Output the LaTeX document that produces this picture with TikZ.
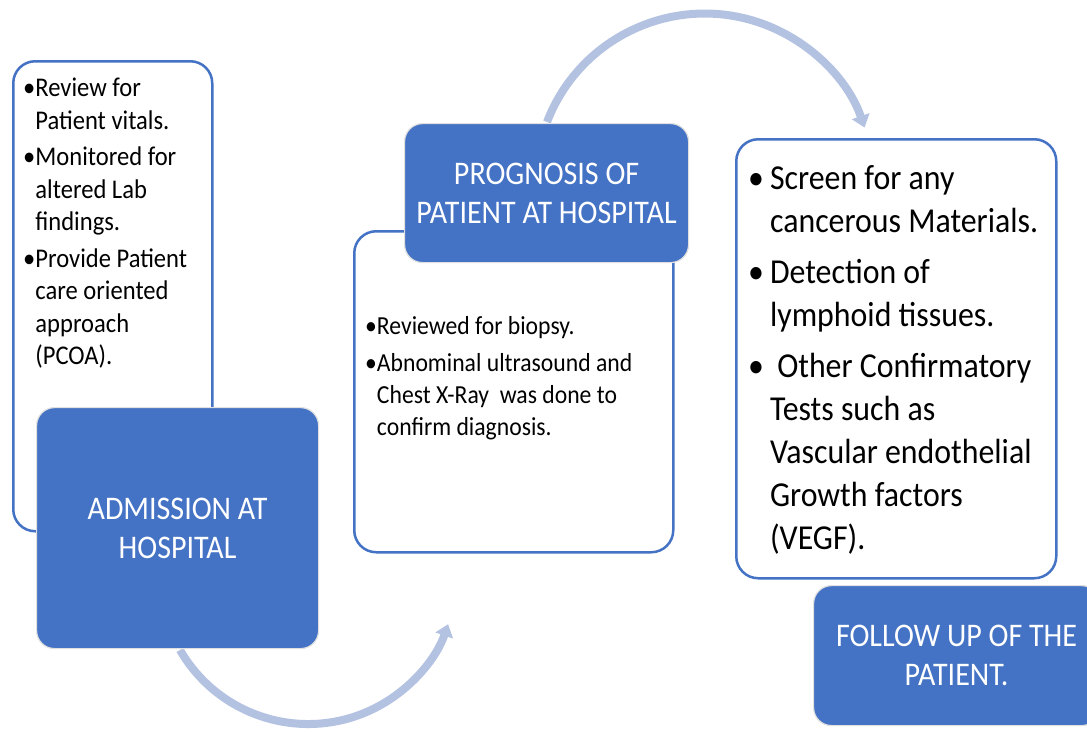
\documentclass[tikz,border=0pt]{standalone}
\usepackage{fontspec}
\setmainfont{Carlito}[FakeStretch=0.91]
\usetikzlibrary{arrows.meta}

\definecolor{boxblue}{HTML}{4472C4}
\definecolor{arcblue}{HTML}{B4C2E2}

\tikzset{
  panel/.style={draw=boxblue, line width=2.5pt, fill=white, rounded corners=22pt, anchor=north west},
  titlebox/.style={fill=boxblue, draw=black!12, line width=1.2pt, rounded corners=18pt,
    anchor=north west, text=white, align=center, font=\fontsize{33}{39}\selectfont},
  bullets/.style={anchor=north west, inner sep=0pt, align=left},
  flow/.style={arcblue, line width=8pt, -{Triangle[length=12pt,width=18pt]}}
}

\def\gap{\phantom{\textbullet}}
\def\sp{\hspace{6pt}}

\begin{document}
\begin{tikzpicture}[x=1pt, y=-1pt]
\clip (0,0) rectangle (1087,731);
\fill[white] (0,0) rectangle (1087,731);

% arcs between the stages
\draw[flow] (547,122) arc[start angle=201, end angle=341, radius=169];
\draw[flow] (180,650) arc[start angle=150, end angle=19, radius=148];

% detail panels
\node[panel, minimum width=199pt, minimum height=470pt] (admpanel) at (12,60) {};
\node[panel, minimum width=319pt, minimum height=321pt] (progpanel) at (353,230) {};
\node[panel, minimum width=320pt, minimum height=439pt] (follpanel) at (735,138) {};

% stage titles
\node[titlebox, minimum width=282pt, minimum height=241pt] (admission) at (36,407)
  {ADMISSION AT\\HOSPITAL};
\node[titlebox, minimum width=284pt, minimum height=139pt] (prognosis) at (404,123)
  {PROGNOSIS OF\\PATIENT AT HOSPITAL};
\node[titlebox, minimum width=286pt, minimum height=140pt] (followup) at (813,585)
  {FOLLOW UP OF THE\\PATIENT.};

% bullet texts
\node[bullets, font=\fontsize{27}{32.5}\selectfont] (admlist) at (23,78)
  {\textbullet Review for\\\gap Patient vitals.\\[4pt]
   \textbullet Monitored for\\\gap altered Lab\\\gap findings.\\[4pt]
   \textbullet Provide Patient\\\gap care oriented\\\gap approach\\\gap (PCOA).};
\node[bullets, font=\fontsize{26}{32}\selectfont] (proglist) at (365,316)
  {\textbullet Reviewed for biopsy.\\[5pt]
   \textbullet Abnominal ultrasound and\\\gap Chest X-Ray\ \ was done to\\\gap confirm diagnosis.};
\node[bullets, font=\fontsize{35}{43}\selectfont] (follist) at (748,165)
  {\textbullet\sp Screen for any\\\gap\sp cancerous Materials.\\[8pt]
   \textbullet\sp Detection of\\\gap\sp lymphoid tissues.\\[8pt]
   \textbullet\sp\ Other Confirmatory\\\gap\sp Tests such as\\\gap\sp Vascular endothelial\\\gap\sp Growth factors\\\gap\sp (VEGF).};
\end{tikzpicture}
\end{document}
